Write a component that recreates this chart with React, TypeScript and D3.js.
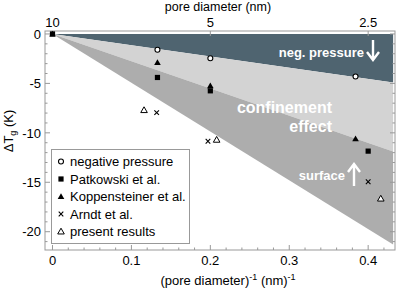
import * as d3 from 'd3';

// marker series: [x = 1/d (nm^-1), y = ΔTg (K)]
const negPressure: [number, number][] = [[0.133, -1.6], [0.2, -2.45], [0.384, -4.3]];
const patkowski: [number, number][] = [[0, 0], [0.133, -4.4], [0.2, -5.75], [0.4, -11.85]];
const koppensteiner: [number, number][] = [[0, 0], [0.133, -2.9], [0.2, -5.25], [0.384, -10.6]];
const arndt: [number, number][] = [[0.132, -7.95], [0.197, -10.85], [0.4, -14.95]];
const present: [number, number][] = [[0.116, -7.7], [0.208, -10.7], [0.416, -16.65]];

// wedge edges at the right end of the shaded area
const bandEnd = 0.4316;
const bandEdges = [0, -4.9, -11.9, -21.3];
const bandColors = ['#4f6470', '#d3d3d3', '#adadad'];

const xTicks = [0, 0.1, 0.2, 0.3, 0.4];
const yTicks = [0, -5, -10, -15, -20];
const topTickPos = [0, 0.2, 0.4];
const topTickLabels = ['10', '5', '2.5'];

const legendLabels = ['negative pressure', 'Patkowski et al.', 'Koppensteiner et al.', 'Arndt et al.', 'present results'];

const W = 400;
const H = 289;
const left = 45, right = 395, top = 31, bottom = 250;
const axisColor = '#999';
const font = 'Liberation Sans, Arial, sans-serif';

function Marker({ kind, x, y }: { kind: string; x: number; y: number }) {
  if (kind === 'circle') return <circle cx={x} cy={y} r={2.5} fill="#fff" stroke="#000" strokeWidth={1.1} />;
  if (kind === 'square') return <rect x={x - 2.6} y={y - 2.6} width={5.2} height={5.2} fill="#000" />;
  if (kind === 'tri' || kind === 'otri') {
    const s = 3.3;
    const d = `M${x},${y - s}L${x + s},${y + s * 0.75}L${x - s},${y + s * 0.75}Z`;
    return kind === 'tri'
      ? <path d={d} fill="#000" />
      : <path d={d} fill="#fff" stroke="#000" strokeWidth={1} />;
  }
  const s = 2.3;
  return <path d={`M${x - s},${y - s}L${x + s},${y + s}M${x - s},${y + s}L${x + s},${y - s}`} stroke="#000" strokeWidth={1.1} />;
}

export default function App() {
  const x = d3.scaleLinear().domain([-0.0095, 0.434]).range([left, right]);
  const y = d3.scaleLinear().domain([-21.85, 0.3]).range([bottom, top]);

  const area = d3.line<[number, number]>().x(d => x(d[0])).y(d => y(d[1]));
  const bands = bandColors.map((c, i) => ({
    color: c,
    d: area([[0, 0], [bandEnd, bandEdges[i]], [bandEnd, bandEdges[i + 1]]]) + 'Z',
  }));

  const series = [
    { kind: 'circle', data: negPressure },
    { kind: 'square', data: patkowski },
    { kind: 'tri', data: koppensteiner },
    { kind: 'cross', data: arndt },
    { kind: 'otri', data: present },
  ];

  const yMinor = d3.range(-21, 1, 1);
  const xMinor = d3.range(0, 0.43, 0.02);

  return (
    <svg width={W} height={H} style={{ position: 'absolute', left: 0, top: 0 }} fontFamily={font}>
      <rect width={W} height={H} fill="#fff" />
      {bands.map((b, i) => <path key={i} d={b.d} fill={b.color} />)}

      {/* band annotations */}
      <g fill="#fff" fontWeight="bold">
        <text x={364} y={57} fontSize={13} textAnchor="end">neg. pressure</text>
        <text x={332} y={113} fontSize={16} textAnchor="end">confinement</text>
        <text x={332} y={132} fontSize={16} textAnchor="end">effect</text>
        <text x={345} y={180} fontSize={13} textAnchor="end">surface</text>
      </g>
      <g stroke="#fff" strokeWidth={2.4} fill="none">
        <path d="M373,40V59M367,52L373,60L379,52" />
        <path d="M354,186V166M348,172L354,164L360,172" />
      </g>

      {/* frame and ticks */}
      <rect x={left} y={top} width={right - left} height={bottom - top} fill="none" stroke={axisColor} strokeWidth={1} />
      <g stroke={axisColor} strokeWidth={1}>
        {yMinor.map(v => {
          const len = v % 5 === 0 ? 5 : 2.5;
          return (
            <g key={v}>
              <line x1={left} x2={left + len} y1={y(v)} y2={y(v)} />
              <line x1={right} x2={right - len} y1={y(v)} y2={y(v)} />
            </g>
          );
        })}
        {xMinor.map((v, i) => {
          const len = i % 5 === 0 ? 5 : 2.5;
          return <line key={i} x1={x(v)} x2={x(v)} y1={bottom} y2={bottom - len} />;
        })}
        {topTickPos.map(v => <line key={v} x1={x(v)} x2={x(v)} y1={top} y2={top + 5} />)}
      </g>

      <g fontSize={13} fill="#000">
        {yTicks.map(v => (
          <text key={v} x={left - 4} y={y(v) + 4.7} textAnchor="end">{v}</text>
        ))}
        {xTicks.map(v => (
          <text key={v} x={x(v)} y={265} textAnchor="middle">{v}</text>
        ))}
        {topTickPos.map((v, i) => (
          <text key={v} x={x(v)} y={26.5} textAnchor="middle">{topTickLabels[i]}</text>
        ))}
        <text x={218} y={10.5} textAnchor="middle" fontSize={12.5}>pore diameter (nm)</text>
        <text x={228} y={285} textAnchor="middle" fontSize={13}>
          (pore diameter)<tspan dy={-5} fontSize={9}>-1</tspan>
          <tspan dy={5}>  (nm)</tspan><tspan dy={-5} fontSize={9}>-1</tspan>
        </text>
        <text transform="translate(13,131) rotate(-90)" textAnchor="middle" fontSize={13}>
          ΔT<tspan dy={3} fontSize={9}>g</tspan><tspan dy={-3}> (K)</tspan>
        </text>
      </g>

      {/* data markers */}
      {series.map(s => s.data.map((p, i) => <Marker key={s.kind + i} kind={s.kind} x={x(p[0])} y={y(p[1])} />))}

      {/* legend */}
      <rect x={51.5} y={149.5} width={138} height={94} fill="#fff" stroke={axisColor} strokeWidth={1} />
      {series.map((s, i) => (
        <g key={s.kind}>
          <Marker kind={s.kind} x={61} y={161.5 + i * 17.5} />
          <text x={70} y={166.3 + i * 17.5} fontSize={13}>{legendLabels[i]}</text>
        </g>
      ))}
    </svg>
  );
}
